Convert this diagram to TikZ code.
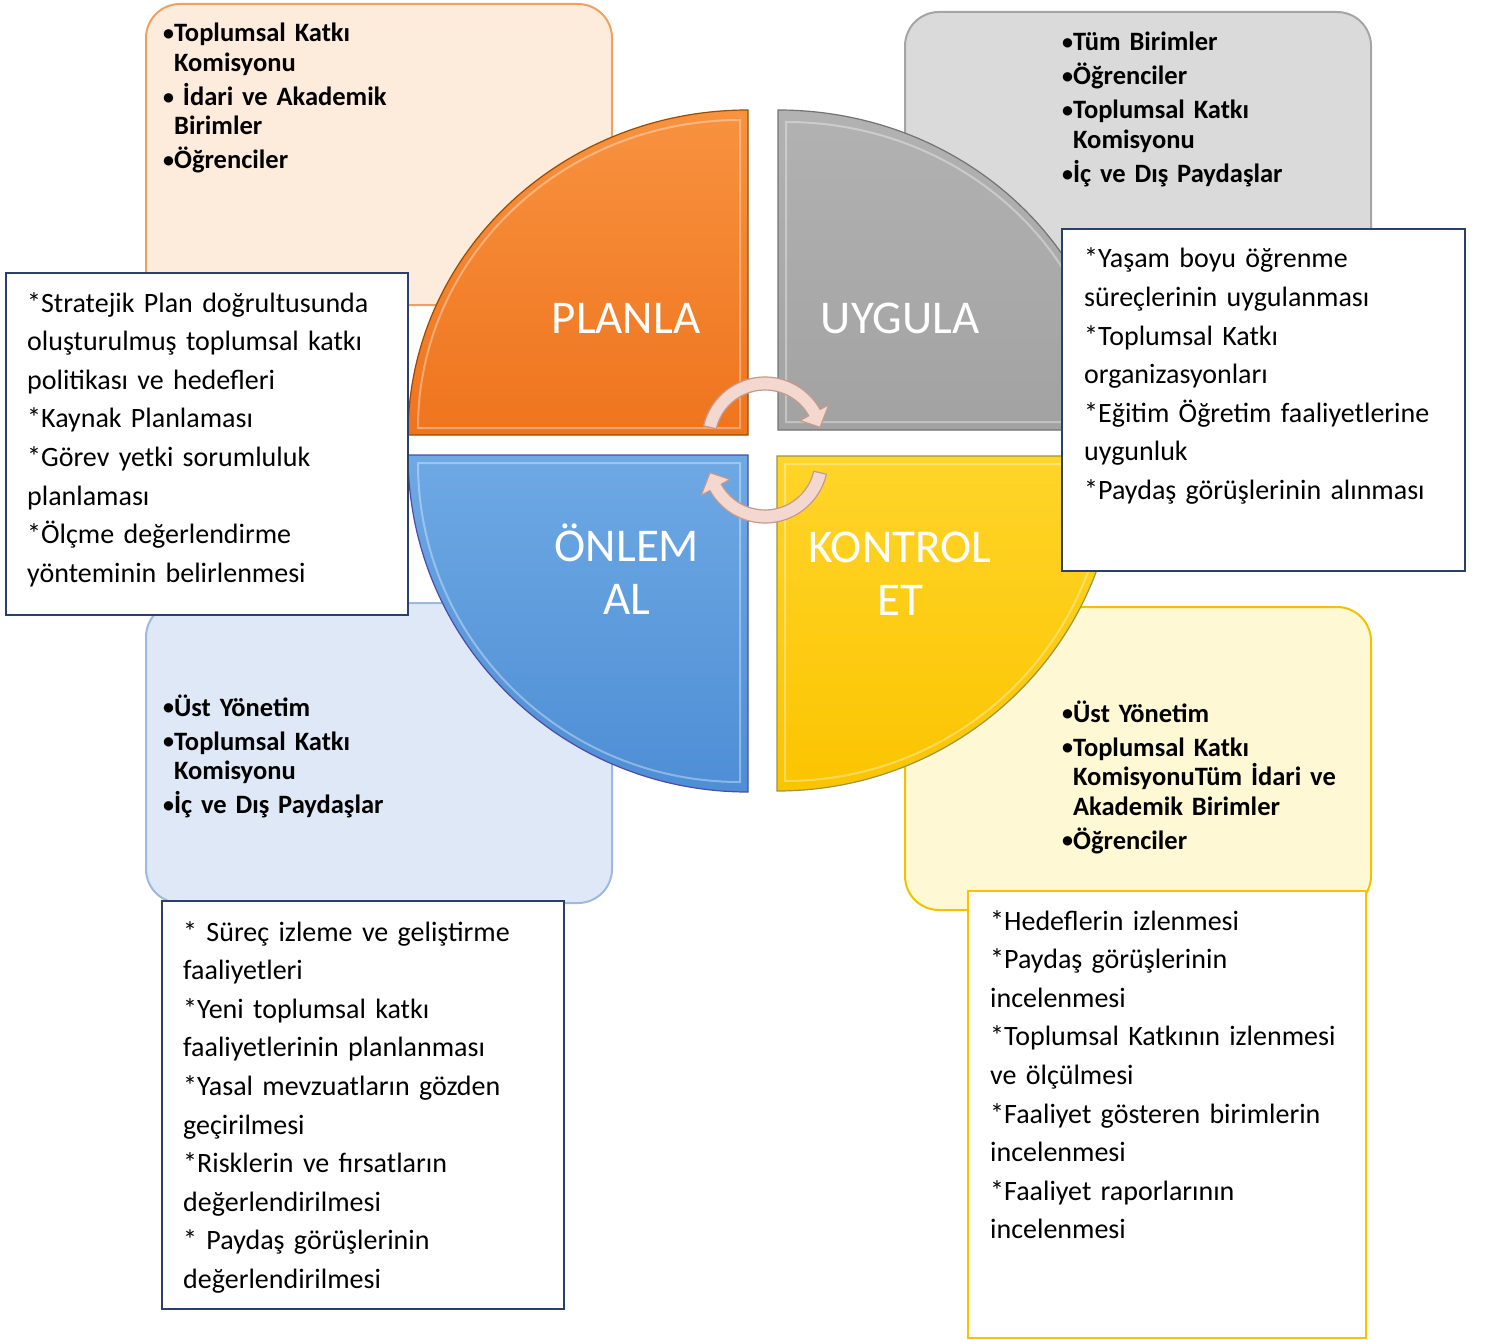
\documentclass[tikz,border=0pt]{standalone}
\usepackage{fontspec}
\setmainfont{Carlito}

\definecolor{planfill}{HTML}{FDEBDC}
\definecolor{planline}{HTML}{F0A060}
\definecolor{doitfill}{HTML}{DADADA}
\definecolor{doitline}{HTML}{A5A5A5}
\definecolor{actfill}{HTML}{DFE8F6}
\definecolor{actline}{HTML}{9DB9DF}
\definecolor{checkfill}{HTML}{FEF8D4}
\definecolor{checkline}{HTML}{F2C200}
\definecolor{noteline}{HTML}{2B3F6B}
\definecolor{notegold}{HTML}{FFC000}
\definecolor{arrowfill}{HTML}{F4D7CF}
\definecolor{arrowline}{HTML}{C49A8E}
\definecolor{plantop}{HTML}{F8923F}
\definecolor{planbot}{HTML}{EF741E}
\definecolor{doittop}{HTML}{B2B2B2}
\definecolor{doitbot}{HTML}{A2A2A2}
\definecolor{acttop}{HTML}{6EA9E4}
\definecolor{actbot}{HTML}{4E8ED5}
\definecolor{checktop}{HTML}{FFD52A}
\definecolor{checkbot}{HTML}{FBC400}

\tikzset{
  rolebox/.style={rounded corners=34pt, line width=2pt},
  notebox/.style={draw=noteline, fill=white, line width=2.5pt},
  notetext/.style={anchor=base west, inner sep=0pt, align=left, text width=375pt,
    font=\fontsize{28}{38.6}\selectfont},
  roletext/.style={anchor=base west, inner sep=0pt, align=left, text width=330pt,
    font=\fontsize{26.5}{29.5}\selectfont\bfseries},
  phasetext/.style={anchor=base, inner sep=0pt, align=center, text width=260pt,
    text=white, font=\fontsize{47}{53}\selectfont},
  wedge/.style={line width=1.2pt},
  bevel/.style={white, opacity=0.35, line width=2pt},
  cyclearrow/.style={fill=arrowfill, draw=arrowline, line width=1.2pt, line join=round}
}

\newcommand{\bul}{\raisebox{1.4pt}{\fontsize{22}{22}\selectfont\textbullet}}
\newcommand{\sk}{\phantom{\bul}}
\newcommand{\turnarrow}{%
  (193:63) arc[start angle=193, end angle=331, radius=63]
  -- (331:73) -- (347:56.5) -- (331:40) -- (331:50)
  arc[start angle=331, end angle=193, radius=50] -- cycle}

\begin{document}
\begin{tikzpicture}[x=1pt, y=-1pt]
\useasboundingbox (0,0) rectangle (1485,1340);

% boxes behind the wheel
\draw[rolebox, fill=planfill, draw=planline] (146,4) rectangle (612,305);
\draw[rolebox, fill=doitfill, draw=doitline] (905,12) rectangle (1371,312);
\draw[rolebox, fill=actfill, draw=actline] (146,603) rectangle (612,903);
\draw[rolebox, fill=checkfill, draw=checkline] (905,607) rectangle (1371,910);

\node[roletext] (planwho) at (163,42) {\bul Toplumsal Katkı\\
  \sk Komisyonu\\[4.5pt]
  \bul~İdari ve Akademik\\
  \sk Birimler\\[4.5pt]
  \bul Öğrenciler};
\node[roletext] (doitwho) at (1062,51) {\bul Tüm Birimler\\[4.5pt]
  \bul Öğrenciler\\[4.5pt]
  \bul Toplumsal Katkı\\
  \sk Komisyonu\\[4.5pt]
  \bul İç ve Dış Paydaşlar};
\node[roletext] (actwho) at (163,716) {\bul Üst Yönetim\\[4.5pt]
  \bul Toplumsal Katkı\\
  \sk Komisyonu\\[4.5pt]
  \bul İç ve Dış Paydaşlar};
\node[roletext] (checkwho) at (1062,722) {\bul Üst Yönetim\\[4.5pt]
  \bul Toplumsal Katkı\\
  \sk KomisyonuTüm İdari ve\\
  \sk Akademik Birimler\\[4.5pt]
  \bul Öğrenciler};

% the wheel
\draw[wedge, top color=plantop, bottom color=planbot, draw=orange!60!black]
  (748,435) -- (408,435) arc[start angle=180, end angle=270, x radius=340, y radius=325] -- cycle;
\draw[bevel] (740,428) -- (418,428) arc[start angle=180, end angle=270, x radius=322, y radius=308] -- cycle;
\draw[wedge, top color=doittop, bottom color=doitbot, draw=black!55]
  (778,430) -- (778,110) arc[start angle=270, end angle=360, x radius=340, y radius=320] -- cycle;
\draw[bevel] (786,422) -- (786,122) arc[start angle=270, end angle=360, x radius=322, y radius=300] -- cycle;
\draw[wedge, top color=acttop, bottom color=actbot, draw=blue!50!black!70]
  (748,455) -- (748,792) arc[start angle=90, end angle=180, x radius=340, y radius=337] -- cycle;
\draw[bevel] (740,463) -- (740,782) arc[start angle=90, end angle=180, x radius=322, y radius=319] -- cycle;
\draw[wedge, top color=checktop, bottom color=checkbot, draw=yellow!55!black]
  (777,456) -- (1117,456) arc[start angle=0, end angle=90, x radius=340, y radius=335] -- cycle;
\draw[bevel] (785,464) -- (1107,464) arc[start angle=0, end angle=90, x radius=322, y radius=317] -- cycle;

\node[phasetext] (planla) at (626,333) {PLANLA};
\node[phasetext] (uygula) at (900,333) {UYGULA};
\node[phasetext] (onlem) at (627,561) {ÖNLEM\\AL};
\node[phasetext] (kontrol) at (900,562) {KONTROL\\ET};

\begin{scope}[shift={(765,440)}]
  \draw[cyclearrow] \turnarrow;
\end{scope}
\begin{scope}[shift={(765,460)}, rotate=180]
  \draw[cyclearrow] \turnarrow;
\end{scope}

% notes
\draw[notebox] (6,273) rectangle (408,615);
\node[notetext] (plannote) at (27,312) {*Stratejik Plan doğrultusunda\\
  oluşturulmuş toplumsal katkı\\
  politikası ve hedefleri\\
  {}*Kaynak Planlaması\\
  {}*Görev yetki sorumluluk\\
  planlaması\\
  {}*Ölçme değerlendirme\\
  yönteminin belirlenmesi};

\draw[notebox] (1062,229) rectangle (1465,571);
\node[notetext] (doitnote) at (1084,268) {*Yaşam boyu öğrenme\\
  süreçlerinin uygulanması\\
  {}*Toplumsal Katkı\\
  organizasyonları\\
  {}*Eğitim Öğretim faaliyetlerine\\
  uygunluk\\
  {}*Paydaş görüşlerinin alınması};

\draw[notebox] (162,901) rectangle (564,1309);
\node[notetext] (actnote) at (183,941) {* Süreç izleme ve geliştirme\\
  faaliyetleri\\
  {}*Yeni toplumsal katkı\\
  faaliyetlerinin planlanması\\
  {}*Yasal mevzuatların gözden\\
  geçirilmesi\\
  {}*Risklerin ve fırsatların\\
  değerlendirilmesi\\
  {}* Paydaş görüşlerinin\\
  değerlendirilmesi};

\draw[notebox, draw=notegold] (968,891) rectangle (1366,1338);
\node[notetext] (checknote) at (990,930) {*Hedeflerin izlenmesi\\
  {}*Paydaş görüşlerinin\\
  incelenmesi\\
  {}*Toplumsal Katkının izlenmesi\\
  ve ölçülmesi\\
  {}*Faaliyet gösteren birimlerin\\
  incelenmesi\\
  {}*Faaliyet raporlarının\\
  incelenmesi};
\end{tikzpicture}
\end{document}
